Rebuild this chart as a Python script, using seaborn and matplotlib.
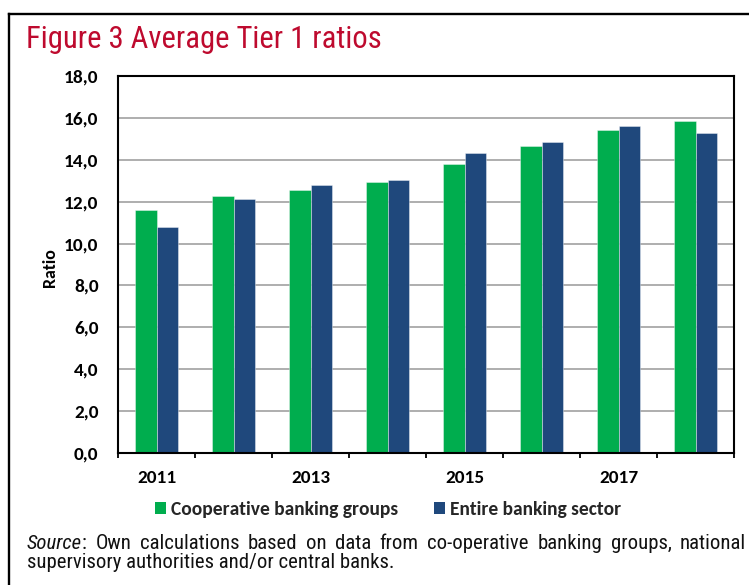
import numpy as np
import pandas as pd
import matplotlib
matplotlib.use("Agg")
import matplotlib.pyplot as plt
import seaborn as sns
from matplotlib.lines import Line2D
from matplotlib.patches import Patch
from matplotlib import font_manager as fm

# ---- data -------------------------------------------------------------
years = ["2011", "2012", "2013", "2014", "2015", "2016", "2017", "2018"]
cooperative = [11.6, 12.25, 12.55, 12.95, 13.8, 14.65, 15.4, 15.85]
entire_sector = [10.8, 12.15, 12.8, 13.05, 14.3, 14.85, 15.6, 15.3]
series_names = ["Cooperative banking groups", "Entire banking sector"]
shown_year_labels = ["2011", "2013", "2015", "2017"]
y_ticks = [0, 2, 4, 6, 8, 10, 12, 14, 16, 18]

title_text = "Figure 3 Average Tier 1 ratios"
source_line1 = ["Source", ":", "Own", "calculations", "based", "on", "data", "from",
                "co-operative", "banking", "groups,", "national"]
source_line2 = "supervisory authorities and/or central banks."

GREEN = "#00AD4E"
BLUE = "#1F487C"
RED = "#BE0A2E"

df = pd.DataFrame({
    "year": years * 2,
    "value": cooperative + entire_sector,
    "series": [series_names[0]] * len(years) + [series_names[1]] * len(years),
})

# ---- fonts ------------------------------------------------------------
sns.set_theme(style="white")
installed = {f.name for f in fm.fontManager.ttflist}


def pick(cands):
    fams = [c for c in cands if c in installed]
    return fams + ["DejaVu Sans"]


CHART_FONT = pick(["Carlito", "Lato"])
NARROW = pick(["Liberation Sans Narrow", "Arial Narrow", "Roboto Condensed",
               "Archivo Narrow", "PT Sans Narrow", "Liberation Sans"])
plt.rcParams["font.family"] = CHART_FONT

W, H = 749, 585
fig = plt.figure(figsize=(W / 100, H / 100), dpi=100)
fig.patch.set_facecolor("white")
fig.canvas.draw()
renderer = fig.canvas.get_renderer()


def fx(px):
    return px / W


def fy(py):
    return 1 - py / H


def text_width(s, size, family, **kw):
    t = fig.text(0, 0, s, fontsize=size, family=family, **kw)
    w = t.get_window_extent(renderer).width
    t.remove()
    return w


def fit(s, target_px, family, **kw):
    return 10 * target_px / text_width(s, 10, family, **kw)


tick_size = fit("2015", 39, CHART_FONT, weight="bold")
legend_size = fit(series_names[0], 228, CHART_FONT, weight="bold")
ylabel_size = tick_size * 0.93

# ---- bars -------------------------------------------------------------
ax = fig.add_axes([fx(118), fy(453), fx(734) - fx(118), fy(76) - fy(453)])

sns.barplot(data=df, x="year", y="value", hue="series", order=years,
            hue_order=series_names, palette=[GREEN, BLUE], saturation=1,
            width=0.571, gap=0, edgecolor=(1, 1, 1, 0.45), linewidth=0.6,
            legend=False, ax=ax)

ax.set_xlim(-0.5, len(years) - 0.5)
ax.set_ylim(0, 18)
ax.set_yticks(y_ticks)
ax.set_yticklabels([f"{v:.1f}".replace(".", ",") for v in y_ticks],
                   fontsize=tick_size, fontweight="bold")
ax.tick_params(axis="y", length=0, pad=14, labelcolor="black")

ax.set_xticks([years.index(y) for y in shown_year_labels])
ax.set_xticklabels(shown_year_labels, fontsize=tick_size, fontweight="bold")
ax.set_xticks(np.arange(-0.5, len(years), 1.0), minor=True)
ax.tick_params(axis="x", which="major", length=0, pad=12, labelcolor="black")
ax.tick_params(axis="x", which="minor", length=3.6, width=1.3, color="black",
               direction="out", bottom=True)
ax.set_xlabel("")
ax.set_ylabel("")

ax.yaxis.grid(True, color="#A8A8A8", linewidth=1.3)
ax.set_axisbelow(True)
for sp in ax.spines.values():
    sp.set_visible(True)
    sp.set_color("black")
    sp.set_linewidth(1.5)

fig.text(fx(50), fy(268), "Ratio", rotation=90, ha="center", va="center",
         fontsize=ylabel_size, fontweight="bold", color="black")

# legend below the plot
fs_px = legend_size * 100 / 72
handles = [Patch(facecolor=GREEN, edgecolor="none"), Patch(facecolor=BLUE, edgecolor="none")]
fig.legend(handles, series_names, loc="center", ncol=2,
           bbox_to_anchor=(fx(388), fy(509)), frameon=False,
           prop={"family": CHART_FONT, "weight": "bold", "size": legend_size},
           handlelength=11 / fs_px, handleheight=11 / fs_px,
           handletextpad=5 / fs_px, columnspacing=36 / fs_px, borderpad=0)

# outer panel border (open on the right and bottom)
fig.add_artist(Line2D([fx(8.5), fx(8.5)], [fy(14), 0], transform=fig.transFigure,
                      color="black", linewidth=1.7, solid_capstyle="projecting"))
fig.add_artist(Line2D([fx(8.5), 1], [fy(14), fy(14)], transform=fig.transFigure,
                      color="black", linewidth=1.7, solid_capstyle="projecting"))

# title
title_size = fit(title_text, 352, NARROW)
fig.text(fx(26), fy(48), title_text, fontsize=title_size, family=NARROW,
         color=RED, ha="left", va="baseline")

# source note: second line sets the font size, first line is justified
src_size = fit(source_line2, 365, NARROW)
src_color = "#111111"
fig.text(fx(27), fy(568), source_line2, fontsize=src_size, family=NARROW,
         color=src_color, ha="left", va="baseline")

words = [[(source_line1[0], "italic"), (source_line1[1], "normal")]] + \
        [[(w, "normal")] for w in source_line1[2:]]
widths = [[text_width(s, src_size, NARROW, style=st) for s, st in word] for word in words]
total = sum(sum(w) for w in widths)
left, right = 27, 746
gap = (right - left - total) / (len(words) - 1)
x = left
for word, ws in zip(words, widths):
    for (s, st), w in zip(word, ws):
        fig.text(fx(x), fy(549), s, fontsize=src_size, family=NARROW, style=st,
                 color=src_color, ha="left", va="baseline")
        x += w
    x += gap

fig.savefig("out.png", dpi=100, facecolor="white")
